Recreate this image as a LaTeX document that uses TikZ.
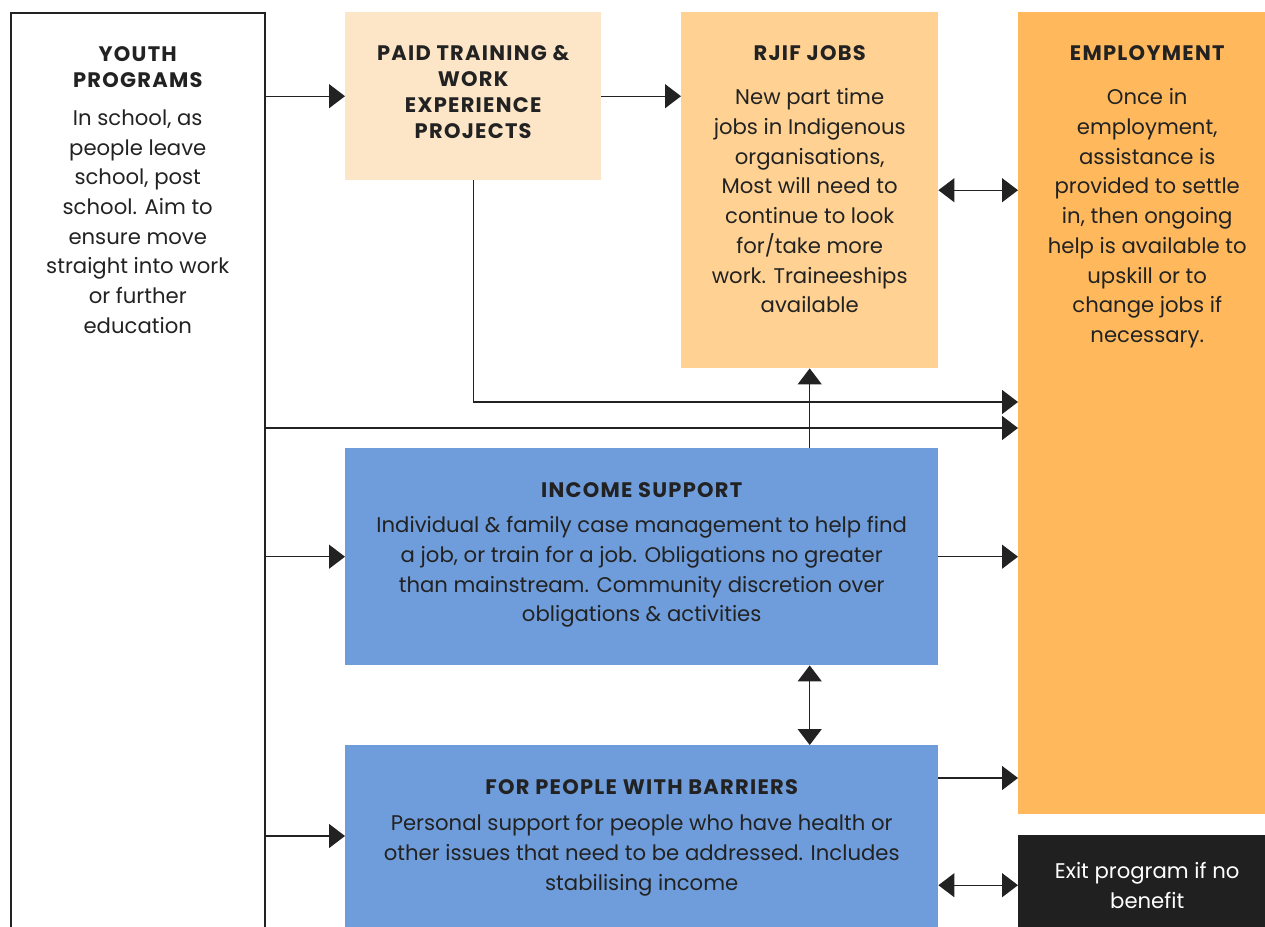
\documentclass[tikz,border=0pt]{standalone}
\usepackage{fontspec}
\setmainfont{Poppins}
\usetikzlibrary{arrows.meta,positioning}
\definecolor{ink}{HTML}{222222}
\definecolor{paidc}{HTML}{FDE6C7}
\definecolor{jobc}{HTML}{FFD192}
\definecolor{empc}{HTML}{FFB95C}
\definecolor{supc}{HTML}{6F9DDB}
\definecolor{exitc}{HTML}{202020}
\newcommand{\panel}[4]{\parbox[t][#2pt][t]{#1pt}{\centering\vspace*{#3pt}#4}}
\newcommand{\ttl}[1]{{\fontsize{21}{26}\selectfont\bfseries\addfontfeatures{LetterSpace=6}#1\par}}
\newcommand{\txt}[2]{\vspace{#1pt}{\fontsize{21.2}{29.7}\selectfont #2\par}}
\begin{document}
\begin{tikzpicture}[x=1pt,y=-1pt,color=ink,
  box/.style={anchor=north west, inner sep=0pt, text=ink},
  arr/.style={line width=1.3pt, -{Triangle[length=16pt,width=24pt]}},
  biarr/.style={line width=1.3pt, {Triangle[length=16pt,width=24pt]}-{Triangle[length=16pt,width=24pt]}}]
\useasboundingbox (0,0) rectangle (1265,926);
\clip (0,0) rectangle (1265,926);
\node[box, draw, line width=1.5pt] (youth) at (10,12) {\panel{254}{940}{33.5}{\ttl{YOUTH\\PROGRAMS}\txt{8.5}{In school, as\\people leave\\school, post\\school. Aim to\\ensure move\\straight into work\\or further\\education}}};
\node[box, fill=paidc] (paid) at (345,12) {\panel{256}{168}{33.5}{\ttl{PAID TRAINING \&\\WORK\\EXPERIENCE\\PROJECTS}}};
\node[box, fill=jobc] (jobs) at (681,12) {\panel{257}{356}{33.5}{\ttl{RJIF JOBS}\txt{14.5}{New part time\\jobs in Indigenous\\organisations,\\Most will need to\\continue to look\\for/take more\\work. Traineeships\\available}}};
\node[box, fill=empc] (emp) at (1018,12) {\panel{258}{802}{33.5}{\ttl{EMPLOYMENT}\txt{14.5}{Once in\\employment,\\assistance is\\provided to settle\\in, then ongoing\\help is available to\\upskill or to\\change jobs if\\necessary.}}};
\node[box, fill=supc] (income) at (345,448) {\panel{593}{217}{34.5}{\ttl{INCOME SUPPORT}\txt{5.5}{Individual \& family case management to help find\\a job, or train for a job. Obligations no greater\\than mainstream. Community discretion over\\obligations \& activities}}};
\node[box, fill=supc] (barrier) at (345,745) {\panel{593}{200}{34.5}{\ttl{FOR PEOPLE WITH BARRIERS}\txt{6.5}{Personal support for people who have health or\\other issues that need to be addressed. Includes\\stabilising income}}};
\node[box, fill=exitc, text=white] (exit) at (1018,835) {\panel{258}{100}{27.5}{\txt{0}{Exit program if no\\benefit}}};
\draw[arr] (youth.east |- paid.west) -- (paid.west);
\draw[arr] (paid.east) -- (paid.east -| jobs.west);
\draw[biarr] (jobs.east) -- (jobs.east -| emp.west);
\draw[arr] (paid.south) |- (emp.west |- 0,402);
\draw[arr] (youth.east |- 0,428) -- (emp.west |- 0,428);
\draw[arr] (jobs.south |- income.north) -- (jobs.south);
\draw[arr] (youth.east |- income.west) -- (income.west);
\draw[arr] (income.east) -- (income.east -| emp.west);
\draw[biarr] (jobs.south |- income.south) -- (jobs.south |- barrier.north);
\draw[arr] (barrier.east |- 0,778) -- (emp.west |- 0,778);
\draw[arr] (youth.east |- 0,836) -- (barrier.west |- 0,836);
\draw[biarr] (barrier.east |- exit.west) -- (exit.west);
\end{tikzpicture}
\end{document}
